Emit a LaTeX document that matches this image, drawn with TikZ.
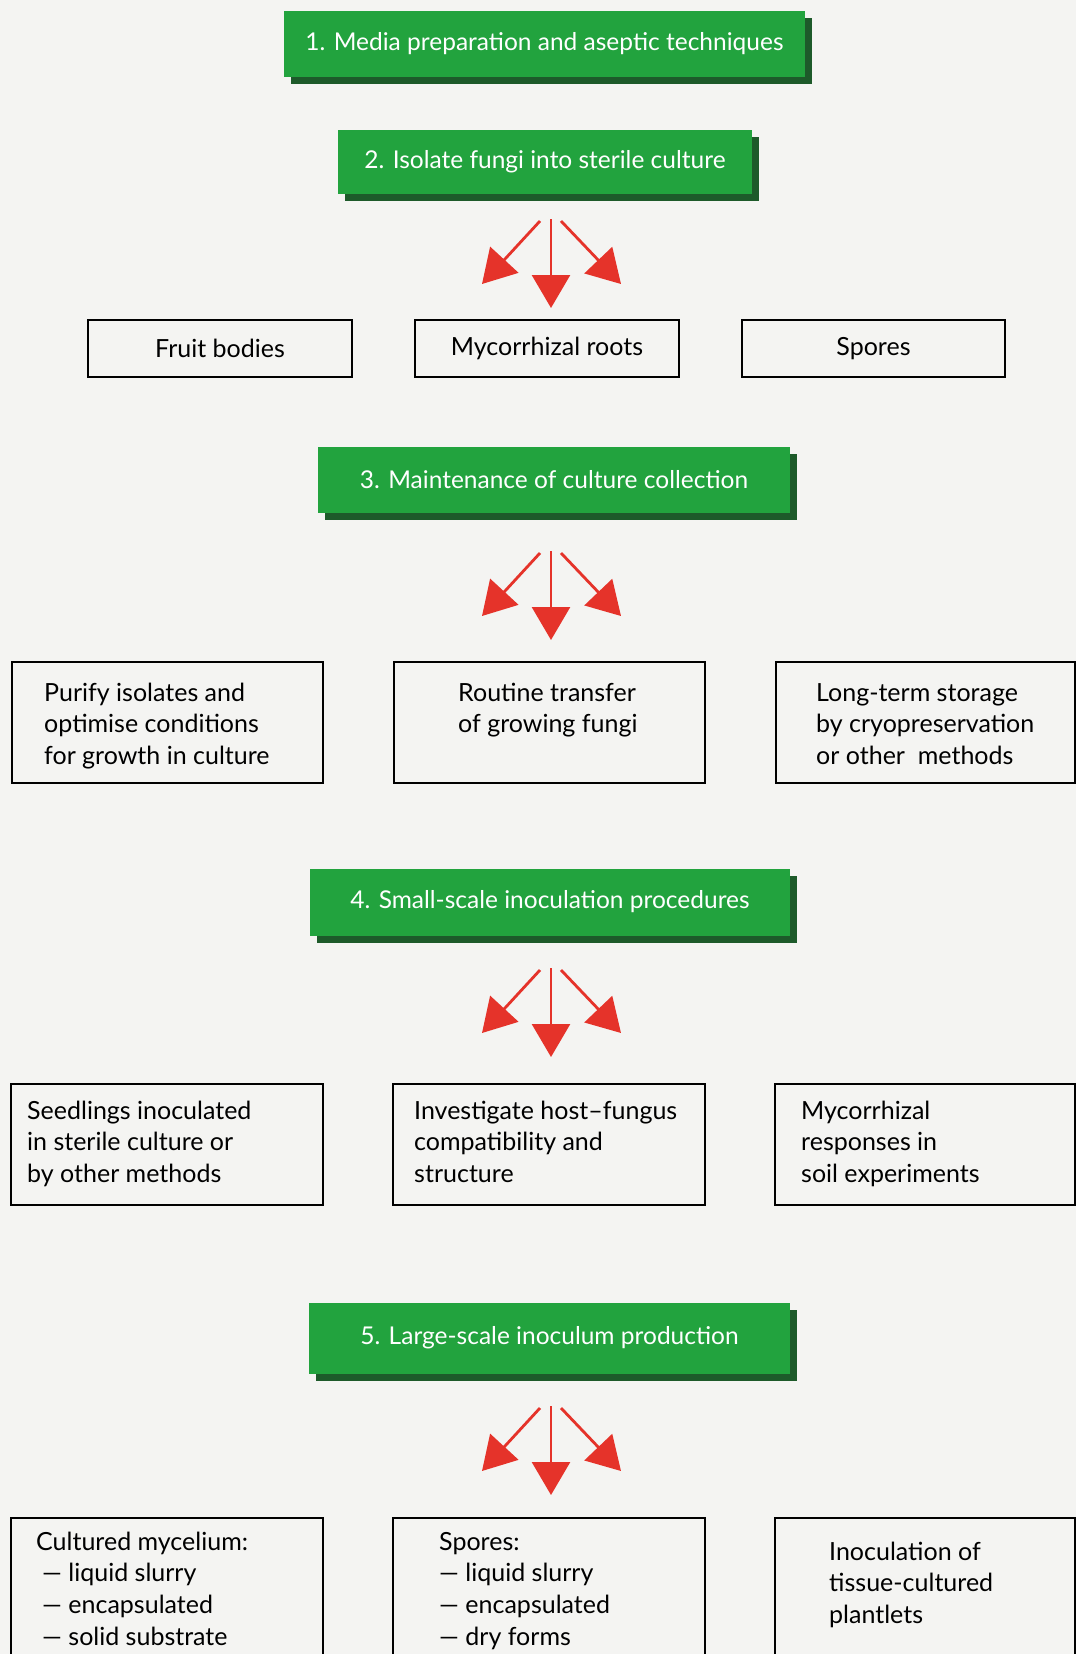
\documentclass[tikz,border=0pt]{standalone}
\usepackage{fontspec}
\setmainfont{Lato}
\usetikzlibrary{arrows.meta,shadows,calc}
\definecolor{bgc}{HTML}{F4F4F2}
\definecolor{gboxc}{HTML}{22A33E}
\definecolor{gshadowc}{HTML}{1D5A2A}
\definecolor{aredc}{HTML}{E5332A}
\newcommand{\mylines}[5]{\parbox[c][#1][t]{#2}{\raggedright\leftskip=#3\baselineskip=31.6pt\vspace*{#4}\rule{0pt}{20pt}#5}}
\newcommand{\arrowfan}[3]{%
  \coordinate (#1c0) at (#2,#3);
  \coordinate (#1c1) at (#2,#3+89);
  \coordinate (#1l0) at (#2-11,#3+2);
  \coordinate (#1l1) at (#2-69,#3+65);
  \coordinate (#1r0) at (#2+10,#3+2);
  \coordinate (#1r1) at (#2+70,#3+65);
  \draw[fanarrow] (#1c0) -- (#1c1);
  \draw[fanarrow] (#1l0) -- (#1l1);
  \draw[fanarrow] (#1r0) -- (#1r1);
}
\begin{document}
\begin{tikzpicture}[x=1pt,y=-1pt,
  gbox/.style={fill=gboxc, text=white, inner sep=0pt,
    font=\fontsize{24.5}{28}\selectfont,
    drop shadow={shadow xshift=7pt, shadow yshift=-7pt, fill=gshadowc, opacity=1}},
  wbox/.style={draw=black, line width=2.4pt, inner sep=0pt,
    font=\fontsize{25}{28}\selectfont},
  fanarrow/.style={draw=aredc, line width=2.8pt, -{Triangle[width=38pt,length=33pt]}, aredc},
]
\useasboundingbox (0,0) rectangle (1076,1654);
\fill[bgc] (0,0) rectangle (1076,1654);
\clip (0,0) rectangle (1076,1654);

% green step boxes
\node[gbox, minimum width=521pt, minimum height=66pt] (g1) at (544.5,44) {1. Media preparation and aseptic techniques};
\node[gbox, minimum width=414pt, minimum height=64pt] (g2) at (545,162) {2. Isolate fungi into sterile culture};
\node[gbox, minimum width=472pt, minimum height=66pt] (g3) at (554,480) {3. Maintenance of culture collection};
\node[gbox, minimum width=480pt, minimum height=67pt] (g4) at (550,902) {4. Small-scale inoculation procedures};
\node[gbox, minimum width=481pt, minimum height=71pt] (g5) at (549.5,1338) {5. Large-scale inoculum production};

% row 1
\node[wbox, minimum width=264pt, minimum height=57pt] (r1a) at (220,348.5) {Fruit bodies};
\node[wbox, minimum width=264pt, minimum height=57pt] (r1b) at (547,348.5) {Mycorrhizal roots};
\node[wbox, minimum width=263pt, minimum height=57pt] (r1c) at (873.5,348.5) {Spores};

% row 2
\node[wbox, anchor=north west, minimum width=311pt, minimum height=121pt] (r2a) at (11,661)
  {\mylines{121pt}{311pt}{32pt}{19pt}{Purify isolates and\\optimise conditions\\for growth in culture}};
\node[wbox, anchor=north west, minimum width=311pt, minimum height=121pt] (r2b) at (393,661)
  {\mylines{121pt}{311pt}{64pt}{19pt}{Routine transfer\\of growing fungi}};
\node[wbox, anchor=north west, minimum width=299pt, minimum height=121pt] (r2c) at (775,661)
  {\mylines{121pt}{299pt}{40pt}{19pt}{Long-term storage\\by cryopreservation\\or other\ \ methods}};

% row 3
\node[wbox, anchor=north west, minimum width=312pt, minimum height=121pt] (r3a) at (10,1083)
  {\mylines{121pt}{312pt}{16pt}{15pt}{Seedlings inoculated\\in sterile culture or\\by other methods}};
\node[wbox, anchor=north west, minimum width=312pt, minimum height=121pt] (r3b) at (392,1083)
  {\mylines{121pt}{312pt}{21pt}{15pt}{Investigate host--fungus\\compatibility and\\structure}};
\node[wbox, anchor=north west, minimum width=300pt, minimum height=121pt] (r3c) at (774,1083)
  {\mylines{121pt}{300pt}{26pt}{15pt}{Mycorrhizal\\responses in\\soil experiments}};

% row 4
\node[wbox, anchor=north west, minimum width=312pt, minimum height=160pt] (r4a) at (10,1517)
  {\mylines{160pt}{312pt}{25pt}{12pt}{Cultured mycelium:\\\hspace*{6pt}— liquid slurry\\\hspace*{6pt}— encapsulated\\\hspace*{6pt}— solid substrate}};
\node[wbox, anchor=north west, minimum width=312pt, minimum height=160pt] (r4b) at (392,1517)
  {\mylines{160pt}{312pt}{46pt}{12pt}{Spores:\\— liquid slurry\\— encapsulated\\— dry forms}};
\node[wbox, anchor=north west, minimum width=300pt, minimum height=160pt] (r4c) at (774,1517)
  {\mylines{160pt}{300pt}{54pt}{22pt}{Inoculation of\\tissue-cultured\\plantlets}};

% arrow fans
\arrowfan{f1}{551}{219}
\arrowfan{f2}{551}{551}
\arrowfan{f3}{551}{968}
\arrowfan{f4}{551}{1406}
\end{tikzpicture}
\end{document}
